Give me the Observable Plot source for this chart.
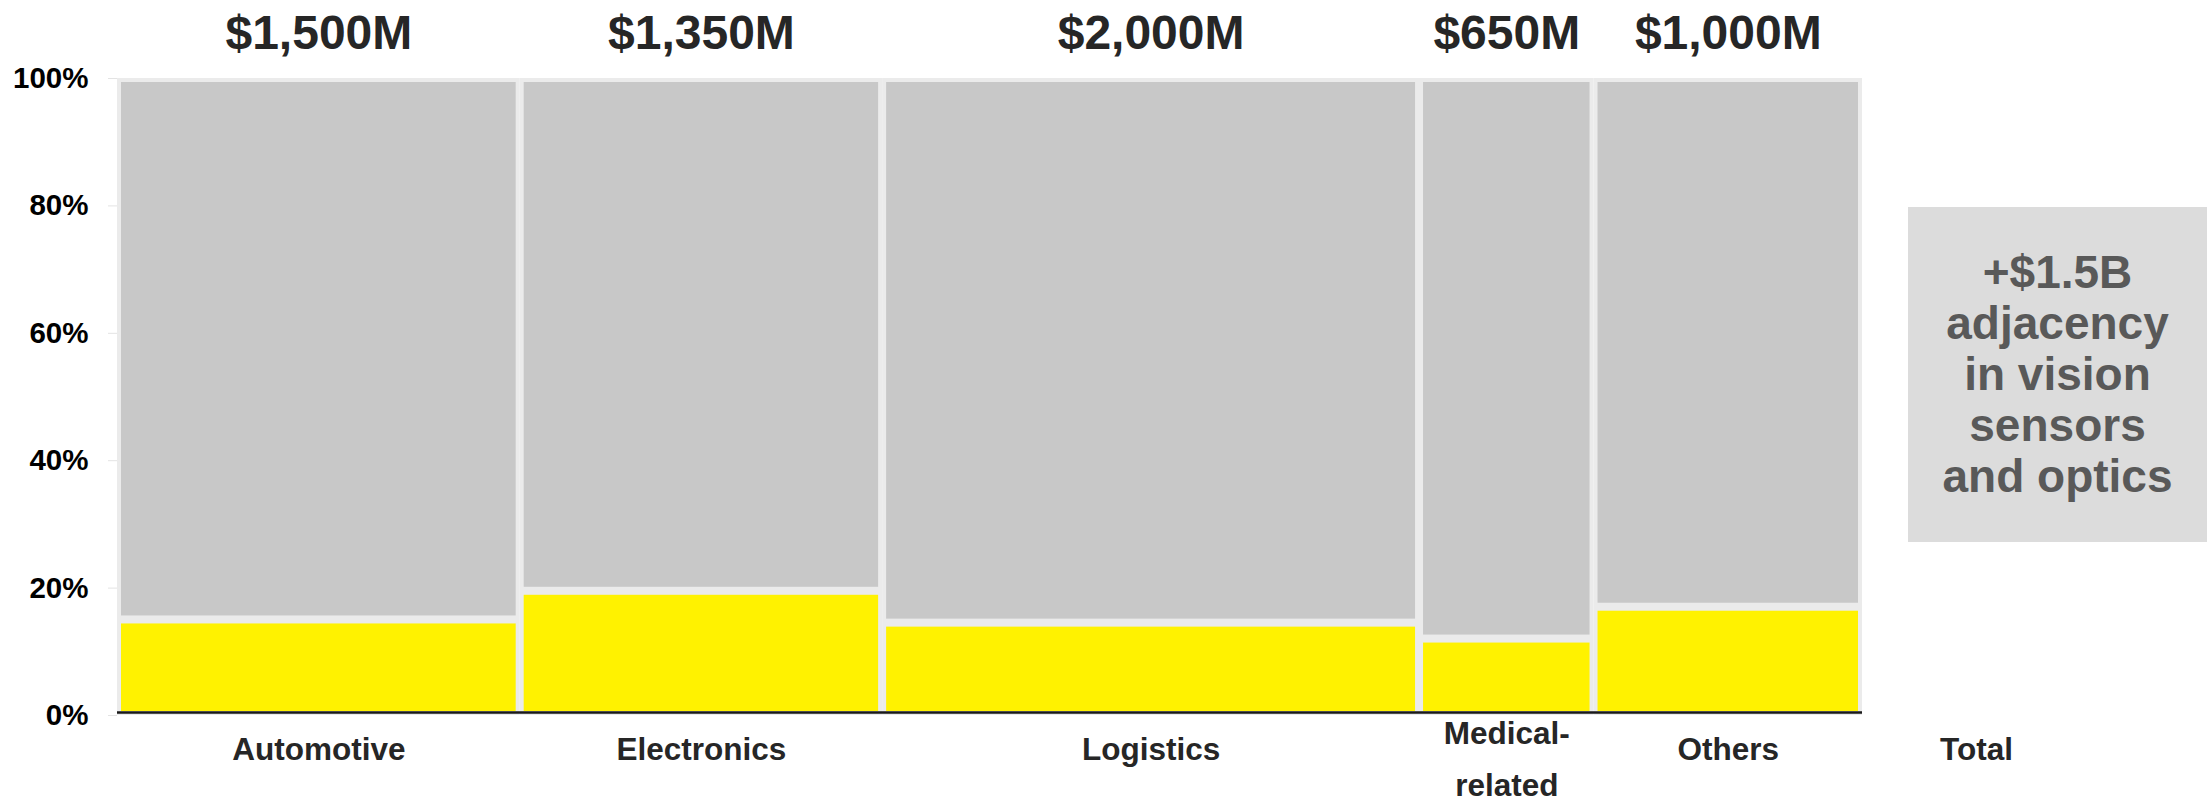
<!DOCTYPE html>
<html><head><meta charset="utf-8">
<script src="https://cdn.jsdelivr.net/npm/d3@7"></script>
<script src="https://cdn.jsdelivr.net/npm/@observablehq/plot@0.6"></script>
<style>
html,body{margin:0;padding:0;background:#fff;}
#wrap{position:relative;width:2207px;height:803px;font-family:"Liberation Sans",Arial,sans-serif;overflow:hidden;}
#note{position:absolute;left:1908px;top:207px;width:299px;height:335px;background:#dcdcdc;color:#595959;font-weight:bold;font-size:46px;line-height:51px;text-align:center;box-sizing:border-box;padding-top:40px;}
</style></head>
<body><div id="wrap"><div id="chart"></div><div id="note"></div></div>
<script>
// ---- data ----
const categories = ["Automotive", "Electronics", "Logistics", "Medical-\nrelated", "Others"];
const marketSize = [1500, 1350, 2000, 650, 1000];          // $M, column widths
const adjacencyShare = [15, 19.5, 14.5, 12, 17];            // % (yellow segment)
const sizeLabels = ["$1,500M", "$1,350M", "$2,000M", "$650M", "$1,000M"];
const yTicks = [0, 20, 40, 60, 80, 100];
const totalLabel = "Total";
const noteLines = ["+$1.5B", "adjacency", "in vision", "sensors", "and optics"];

// ---- build table ----
let acc = 0;
const cells = categories.map((c, i) => {
  const x1 = acc; acc += marketSize[i];
  return {category: c, x1, x2: acc, share: adjacencyShare[i], label: sizeLabels[i]};
});
const mid = d => (d.x1 + d.x2) / 2;
const font = '"Liberation Sans", Arial, sans-serif';

const plot = Plot.plot({
  width: 2207, height: 803,
  marginLeft: 117, marginRight: 345, marginTop: 78, marginBottom: 88,
  x: {domain: [0, acc], axis: null},
  y: {domain: [0, 100], axis: null},
  style: {fontFamily: font, background: "white", overflow: "visible"},
  marks: [
    Plot.axisY({ticks: yTicks, tickFormat: d => d + "%", tickSize: 9, tickPadding: 20,
      stroke: "#e3e3e3", fill: "#000", fontSize: 29.5, fontWeight: "bold", label: null}),
    Plot.rect(cells, {x1: "x1", x2: "x2", y1: 0, y2: 100, fill: "#ebebeb"}),
    Plot.rect(cells, {x1: "x1", x2: "x2", y1: 0, y2: "share", fill: "#fff200", inset: 4}),
    Plot.rect(cells, {x1: "x1", x2: "x2", y1: "share", y2: 100, fill: "#c8c8c8", inset: 4}),
    Plot.ruleY([0], {stroke: "#1a1a1a", strokeWidth: 2.5, dy: -3}),
    Plot.text(cells, {x: mid, y: 100, text: "label", lineAnchor: "bottom", dy: -30,
      fontSize: 48, fontWeight: "bold", fill: "#262626"}),
    Plot.text(cells.filter(d => !d.category.includes("\n")), {x: mid, y: 0, text: "category",
      lineAnchor: "bottom", dy: 44, fontSize: 31.5, fontWeight: "bold", fill: "#262626"}),
    Plot.text(cells.filter(d => d.category.includes("\n")), {x: mid, y: 0, text: "category",
      lineAnchor: "bottom", dy: 80, lineHeight: 1.65, fontSize: 31.5, fontWeight: "bold", fill: "#262626"}),
    Plot.text([totalLabel], {frameAnchor: "bottom-right", text: d => d, dx: 114, dy: 44,
      lineAnchor: "bottom", textAnchor: "middle", fontSize: 31.5, fontWeight: "bold", fill: "#262626"})
  ]
});
document.getElementById("chart").appendChild(plot);
document.getElementById("note").innerHTML = noteLines.map(s => `<div>${s}</div>`).join("");
</script>
</body></html>
